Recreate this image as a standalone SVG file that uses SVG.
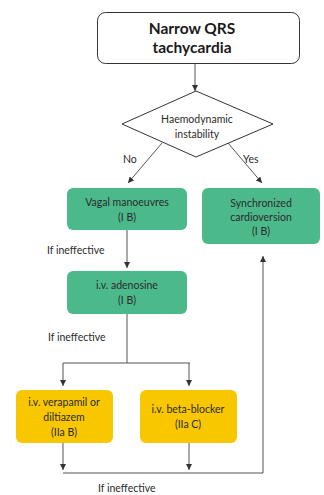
<svg xmlns="http://www.w3.org/2000/svg" width="324" height="495" viewBox="0 0 324 495">
  <defs>
    <marker id="arrow" viewBox="0 0 10 10" refX="10" refY="5" markerWidth="6" markerHeight="6" orient="auto-start-reverse" markerUnits="userSpaceOnUse">
      <path d="M0,0 L10,5 L0,10 z" fill="#333"/>
    </marker>
    <style>
      text { font-family: Lato, "Liberation Sans", sans-serif; fill: #2b2b2b; }
      .t { font-size: 10.5px; text-anchor: middle; }
      .lbl { font-size: 10.5px; }
      .title { font-size: 15.5px; font-weight: bold; text-anchor: middle; fill: #1a1a1a; }
      .green { fill: #4cb98b; }
      .yellow { fill: #f9c700; }
      .conn { stroke: #555; stroke-width: 1; fill: none; }
    </style>
  </defs>
  <rect width="324" height="495" fill="#ffffff"/>

  <g id="connectors">
    <line class="conn" x1="195" y1="64" x2="195" y2="91" marker-end="url(#arrow)"/>
    <line class="conn" x1="162" y1="143" x2="128" y2="183" marker-end="url(#arrow)"/>
    <line class="conn" x1="228" y1="143" x2="262" y2="183" marker-end="url(#arrow)"/>
    <line class="conn" x1="127" y1="230" x2="127" y2="268" marker-end="url(#arrow)"/>
    <path class="conn" d="M127,314 V363 M63,363 H190"/>
    <line class="conn" x1="63" y1="363" x2="63" y2="386" marker-end="url(#arrow)"/>
    <line class="conn" x1="189" y1="363" x2="189" y2="386" marker-end="url(#arrow)"/>
    <line class="conn" x1="63" y1="443" x2="63" y2="470" marker-end="url(#arrow)"/>
    <line class="conn" x1="189" y1="443" x2="189" y2="470" marker-end="url(#arrow)"/>
    <path class="conn" d="M63,473 H263 V256" marker-end="url(#arrow)"/>
    <text class="lbl" x="123" y="163">No</text>
    <text class="lbl" x="243" y="163">Yes</text>
    <text class="lbl" x="47" y="254">If ineffective</text>
    <text class="lbl" x="48" y="341">If ineffective</text>
    <text class="lbl" x="98" y="492">If ineffective</text>
  </g>

  <g id="start">
    <rect x="97.5" y="12.5" width="202" height="51" rx="8" fill="#fff" stroke="#333" stroke-width="1"/>
    <text class="title" x="192" y="34">Narrow QRS</text>
    <text class="title" x="192" y="53">tachycardia</text>
  </g>

  <g id="decision">
    <polygon points="196,91 273,124 196,157 122,124" fill="#fff" stroke="#333" stroke-width="1"/>
    <text class="t" x="197" y="123">Haemodynamic</text>
    <text class="t" x="197" y="138">instability</text>
  </g>

  <g id="vagal">
    <rect class="green" x="67" y="188" width="120" height="42" rx="6"/>
    <text class="t" x="127" y="206">Vagal manoeuvres</text>
    <text class="t" x="127" y="221">(I B)</text>
  </g>

  <g id="cardioversion">
    <rect class="green" x="202" y="188" width="118" height="56" rx="6"/>
    <text class="t" x="261" y="207">Synchronized</text>
    <text class="t" x="261" y="221">cardioversion</text>
    <text class="t" x="261" y="235">(I B)</text>
  </g>

  <g id="adenosine">
    <rect class="green" x="67" y="271" width="120" height="43" rx="6"/>
    <text class="t" x="127" y="289">i.v. adenosine</text>
    <text class="t" x="127" y="304">(I B)</text>
  </g>

  <g id="verapamil">
    <rect class="yellow" x="16" y="390" width="97" height="53" rx="6"/>
    <text class="t" x="64" y="406">i.v. verapamil or</text>
    <text class="t" x="64" y="421">diltiazem</text>
    <text class="t" x="64" y="436">(IIa B)</text>
  </g>

  <g id="betablocker">
    <rect class="yellow" x="140" y="390" width="97" height="53" rx="6"/>
    <text class="t" x="188" y="413">i.v. beta-blocker</text>
    <text class="t" x="188" y="428">(IIa C)</text>
  </g>
</svg>
